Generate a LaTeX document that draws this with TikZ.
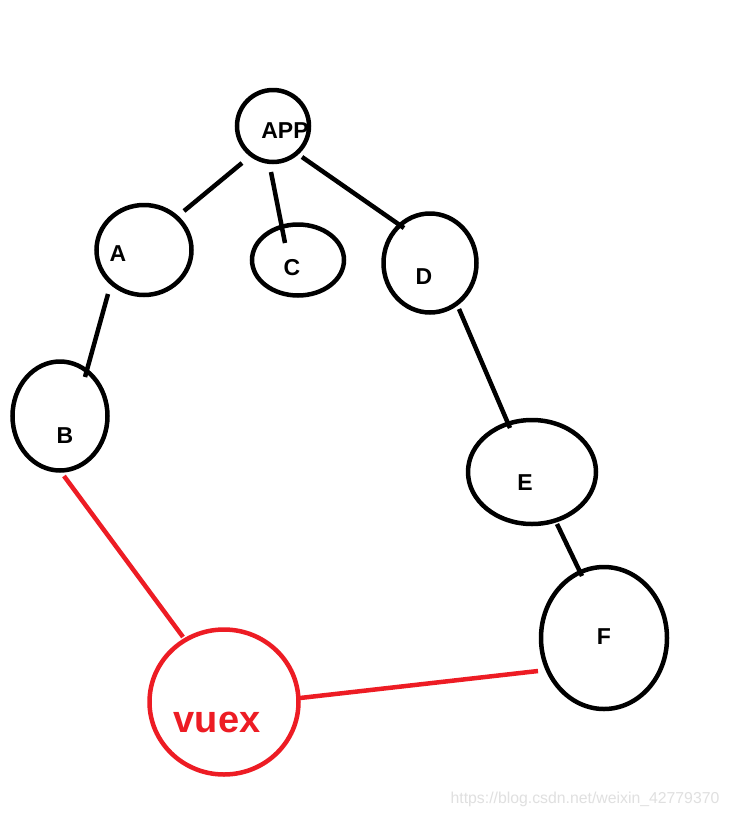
\documentclass[tikz,border=0pt]{standalone}
\usepackage{fontspec}
\setmainfont{Liberation Sans}
\usetikzlibrary{shapes.geometric}
\definecolor{paintred}{RGB}{237,28,36}
\begin{document}
\begin{tikzpicture}[x=1pt,y=-1pt,
  bubble/.style={draw=black,line width=4.5pt,ellipse,inner sep=0pt},
  redbubble/.style={draw=paintred,line width=4.5pt,ellipse,inner sep=0pt},
  lbl/.style={font=\bfseries\fontsize{23}{23}\selectfont,inner sep=0pt},
  link/.style={line width=4.5pt,draw=black},
  redlink/.style={line width=4.5pt,draw=paintred}]
\useasboundingbox[fill=white] (0,0) rectangle (730,817);
% ellipses
\node[bubble,minimum width=72pt,minimum height=72pt] (app) at (273,126) {};
\node[bubble,minimum width=95pt,minimum height=90pt] (a) at (144,250) {};
\node[bubble,minimum width=92pt,minimum height=71pt] (c) at (298,260) {};
\node[bubble,minimum width=93pt,minimum height=99pt] (d) at (430,263) {};
\node[bubble,minimum width=95pt,minimum height=109pt] (b) at (60,416) {};
\node[bubble,minimum width=128pt,minimum height=104pt] (e) at (532,472) {};
\node[bubble,minimum width=126pt,minimum height=142pt] (f) at (604,638) {};
\node[redbubble,minimum width=149pt,minimum height=145pt] (vuex) at (224,702) {};
% labels
\node[lbl] (tapp) at (285,131) {APP};
\node[lbl] (ta) at (118,254) {A};
\node[lbl] (tc) at (292,268) {C};
\node[lbl] (td) at (424,277) {D};
\node[lbl] (tb) at (65,436) {B};
\node[lbl] (te) at (525,483) {E};
\node[lbl] (tf) at (604,637) {F};
\node[lbl,text=paintred,font=\bfseries\fontsize{38}{38}\selectfont] (tvuex) at (217,722) {vuex};
% connectors
\draw[link] ([shift={(-31,37)}]app.center) -- ([shift={(40,-39)}]a.center);
\draw[link] ([shift={(-2,46)}]app.center) -- ([shift={(-13,-17)}]c.center);
\draw[link] ([shift={(29,31)}]app.center) -- ([shift={(-26,-35)}]d.center);
\draw[link] ([shift={(-36,44)}]a.center) -- ([shift={(25,-39)}]b.center);
\draw[link] ([shift={(29,46)}]d.center) -- ([shift={(-22,-44)}]e.center);
\draw[link] ([shift={(25,52)}]e.center) -- ([shift={(-22,-62)}]f.center);
\draw[redlink] ([shift={(4,60)}]b.center) -- ([shift={(-41,-65)}]vuex.center);
\draw[redlink] ([shift={(76,-4)}]vuex.center) -- ([shift={(-66,33)}]f.center);
% watermark
\node[text=black!12,font=\fontsize{15.8}{16}\selectfont,inner sep=0pt] (wm) at (585,799) {https://blog.csdn.net/weixin\_42779370};
\end{tikzpicture}
\end{document}
